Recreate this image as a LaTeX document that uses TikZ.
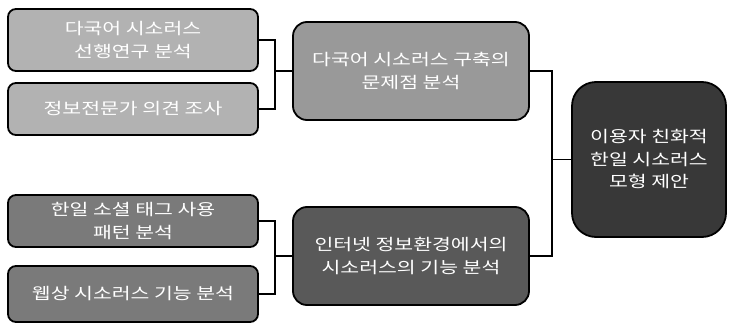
\documentclass[tikz,border=0pt]{standalone}
\usepackage{fontspec}
\newfontfamily\kr{Noto Sans CJK KR}[FakeStretch=1.28]
\begin{document}
\begin{tikzpicture}[x=1pt,y=-1pt,
  box/.style={draw=black,line width=1.8pt,text=white,align=center,
    font=\kr\fontsize{16}{22.5}\selectfont,inner sep=0pt,anchor=center},
  leaf/.style={box,rounded corners=8pt,minimum width=250pt},
  mid/.style={box,rounded corners=14pt,minimum width=236pt,minimum height=98pt},
  link/.style={draw=black,line width=1.2pt}]
\useasboundingbox (0,0) rectangle (731,324);
\definecolor{cA}{gray}{0.70}
\definecolor{cC}{gray}{0.60}
\definecolor{cD}{gray}{0.48}
\definecolor{cF}{gray}{0.35}
\definecolor{cG}{gray}{0.22}
\node[leaf,fill=cA,minimum height=62pt] (A) at (133,40) {다국어 시소러스\\선행연구 분석};
\node[leaf,fill=cA,minimum height=52pt] (B) at (133,109) {정보전문가 의견 조사};
\node[leaf,fill=cD,minimum height=52pt] (D) at (133,221) {한일 소셜 태그 사용\\패턴 분석};
\node[leaf,fill=cD,minimum height=56pt] (E) at (133,294) {웹상 시소러스 기능 분석};
\node[mid,fill=cC] (C) at (411,71) {다국어 시소러스 구축의\\문제점 분석};
\node[mid,fill=cF] (F) at (411,256) {인터넷 정보환경에서의\\시소러스의 기능 분석};
\node[box,fill=cG,rounded corners=24pt,minimum width=154pt,minimum height=155pt] (G) at (649,159.5) {이용자 친화적\\한일 시소러스\\모형 제안};
\coordinate (b1) at (275,0);
\coordinate (b2) at (552,0);
\draw[link] (A.east) -- (A.east -| b1) |- (C.west);
\draw[link] (B.east) -- (B.east -| b1) |- (C.west);
\draw[link] (D.east) -- (D.east -| b1) |- (F.west);
\draw[link] (E.east) -- (E.east -| b1) |- (F.west);
\draw[link] (C.east) -- (C.east -| b2) |- (G.west);
\draw[link] (F.east) -- (F.east -| b2) |- (G.west);
\end{tikzpicture}
\end{document}
